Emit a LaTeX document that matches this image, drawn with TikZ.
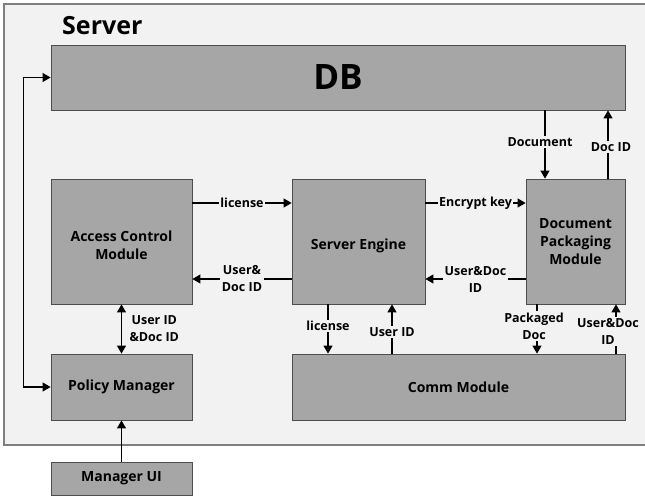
\documentclass[tikz,border=0pt]{standalone}
\usepackage{fontspec}
\setmainfont{Open Sans}
\usetikzlibrary{arrows.meta,positioning}
\definecolor{srvbg}{HTML}{F2F2F2}
\definecolor{srvln}{HTML}{7F7F7F}
\definecolor{boxbg}{HTML}{A6A6A6}
\definecolor{boxln}{HTML}{4D4D4D}
\begin{document}
\begin{tikzpicture}[x=1pt,y=-1pt,
  box/.style={draw=boxln,fill=boxbg,line width=0.8pt,inner sep=0pt,align=center,font=\fontsize{14}{18}\selectfont\bfseries},
  btext/.style={align=center,font=\fontsize{14}{18}\selectfont\bfseries,yshift=-4pt},
  arr/.style={line width=1.1pt,-{Triangle[length=8pt,width=9pt]}},
  both/.style={line width=1.1pt,{Triangle[length=8pt,width=9pt]}-{Triangle[length=8pt,width=9pt]}},
  elab/.style={fill=srvbg,inner sep=1.5pt,align=center,font=\fontsize{12.5}{17}\selectfont\bfseries},
]
\useasboundingbox (0,0) rectangle (645,497);
\fill[white] (0,0) rectangle (645,497);
\draw[srvln,fill=srvbg,line width=2.5pt] (4,4) rectangle (660,445);
\node[anchor=base west,inner sep=0pt,font=\fontsize{25}{28}\selectfont\bfseries] (srv) at (62,35) {Server};

\node[box,minimum width=574pt,minimum height=65pt,font=\fontsize{35}{40}\selectfont\bfseries] (db) at (338,77.5) {DB};
\node[box,minimum width=141pt,minimum height=125pt,label={[btext]center:Access Control\\Module}] (acm) at (121.5,241.5) {};
\node[box,minimum width=133pt,minimum height=125pt,label={[btext]center:Server Engine}] (se) at (358.5,241.5) {};
\node[box,minimum width=99pt,minimum height=125pt] (dpm) at (575.5,241.5) {Document\\Packaging\\Module};
\node[box,minimum width=141pt,minimum height=66pt] (pm) at (121.5,387) {Policy Manager};
\node[box,minimum width=333pt,minimum height=66pt] (comm) at (458.5,387) {Comm Module};
\node[box,minimum width=141pt,minimum height=33pt] (mui) at (121.5,478.5) {Manager UI};

\coordinate (ya) at (0,203);
\coordinate (yb) at (0,279);
\coordinate (xdoc) at (545,0);
\coordinate (xdid) at (608,0);
\coordinate (xlic) at (328,0);
\coordinate (xuid) at (392,0);
\coordinate (xpkg) at (537,0);
\coordinate (xudi) at (616,0);

\draw[arr] (acm.east |- ya) -- node[elab]{license} (se.west |- ya);
\draw[arr] (se.east |- ya) -- node[elab]{Encrypt key} (dpm.west |- ya);
\draw[arr] (se.west |- yb) -- node[elab]{User\&\\Doc ID} (acm.east |- yb);
\draw[arr] (dpm.west |- yb) -- node[elab]{User\&Doc\\ID} (se.east |- yb);
\draw[arr] (db.south -| xdoc) -- node[elab,pos=0.47,xshift=-5pt]{Document} (dpm.north -| xdoc);
\draw[arr] (dpm.north -| xdid) -- node[elab,pos=0.46,xshift=3pt]{Doc ID} (db.south -| xdid);
\draw[arr] (se.south -| xlic) -- node[elab,pos=0.44]{license} (comm.north -| xlic);
\draw[arr] (comm.north -| xuid) -- node[elab,pos=0.44]{User ID} (se.south -| xuid);
\draw[arr] (dpm.south -| xpkg) -- node[elab,pos=0.44,xshift=-3pt]{Packaged\\Doc} (comm.north -| xpkg);
\draw[arr] (comm.north -| xudi) -- node[elab,pos=0.45,xshift=-8pt]{User\&Doc\\ID} (dpm.south -| xudi);
\draw[both] (acm.south) -- node[elab,fill=none,right=6pt]{User ID\\\&Doc ID} (pm.north);
\draw[arr] (mui.north) -- (pm.south);
\draw[both] (pm.west) -- ++(-27,0) |- (db.west);
\end{tikzpicture}
\end{document}
